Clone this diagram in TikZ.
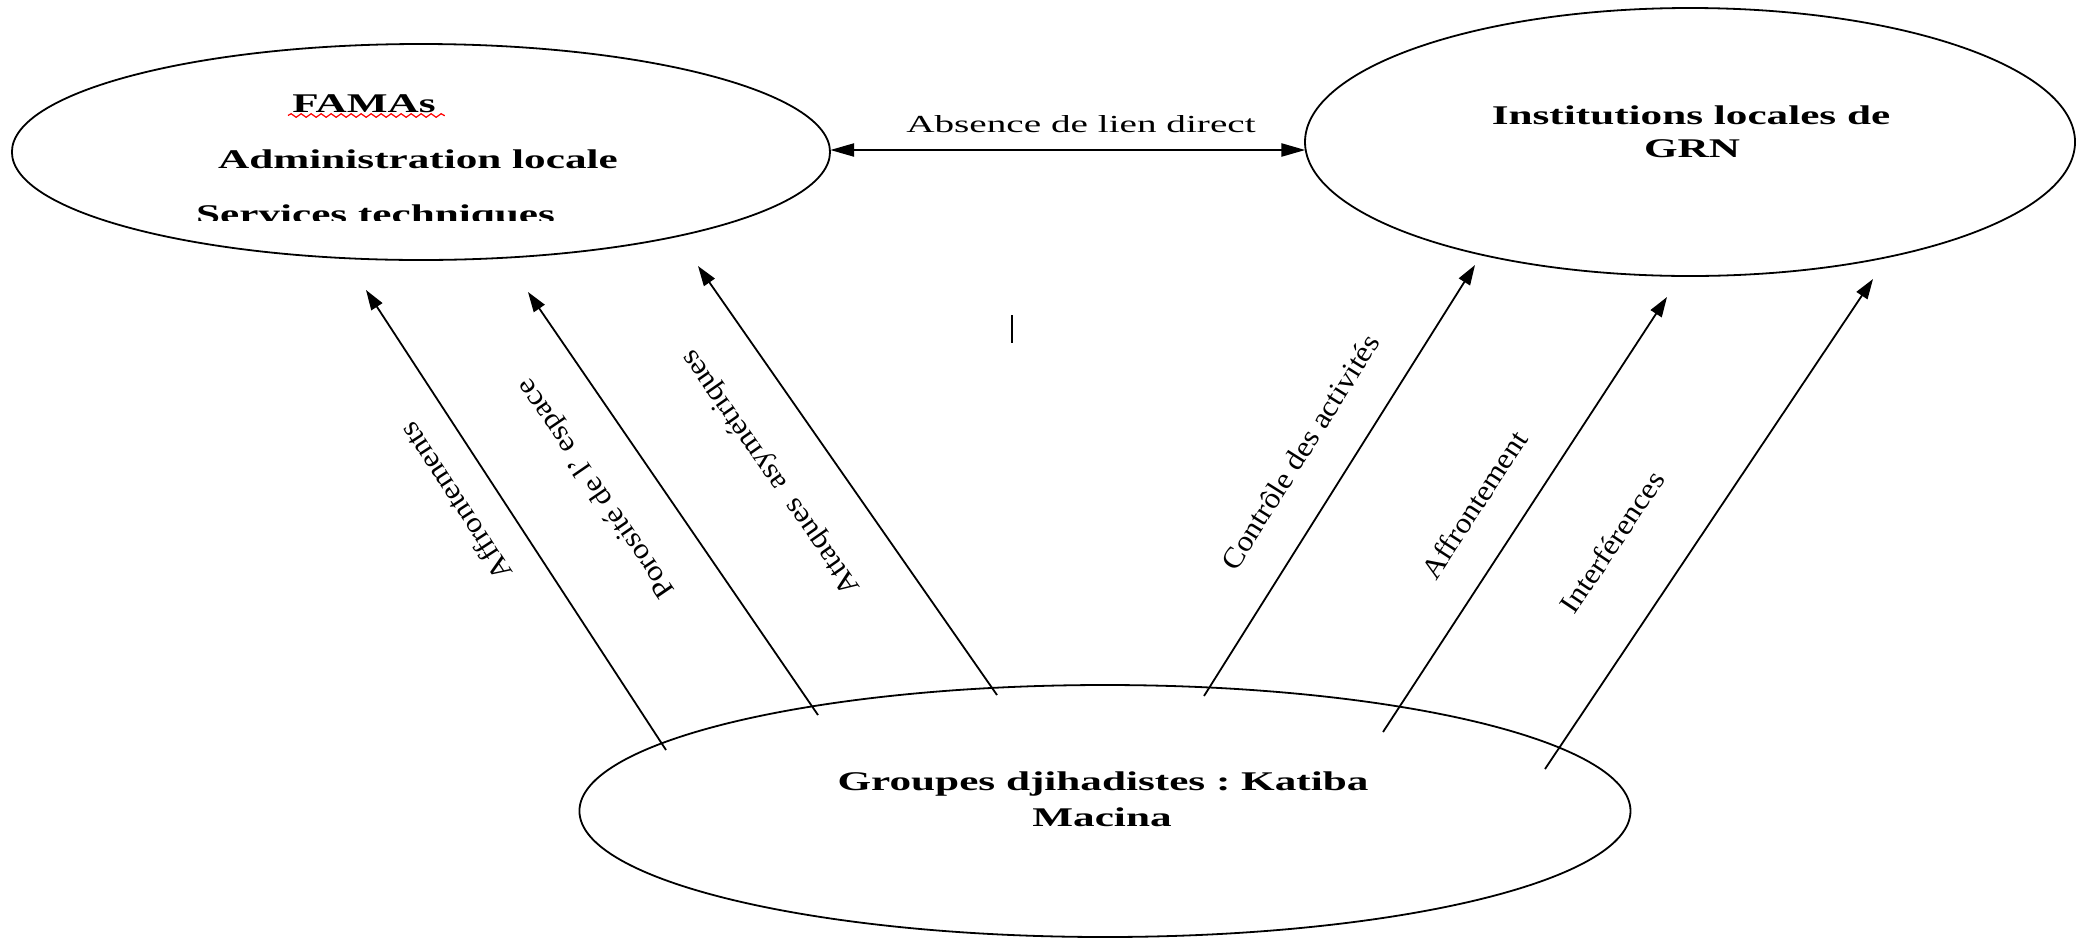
\documentclass[tikz,border=0pt]{standalone}
\usepackage{fontspec}
\setmainfont{Liberation Serif}
\frenchspacing
\usetikzlibrary{arrows.meta,shapes.geometric,decorations.pathmorphing}
\tikzset{
  ell/.style={draw, ellipse, line width=1.8pt, inner sep=0pt, outer sep=0pt},
  btxt/.style={font=\fontsize{27}{32}\selectfont\bfseries, inner sep=0pt, anchor=base},
  rlab/.style={font=\fontsize{29}{32}\selectfont, inner sep=0pt},
  conn/.style={line width=1.8pt, -{Triangle[length=20pt,width=13pt]}},
  dbl/.style={line width=2.4pt, {Triangle[length=24pt,width=13pt]}-{Triangle[length=24pt,width=13pt]}},
  spell/.style={red, line width=1.2pt, decorate, decoration={snake, segment length=10pt, amplitude=1.8pt}}
}
\newcommand{\wlab}[1]{\scalebox{1.08}[1]{#1}}
\begin{document}
\begin{tikzpicture}[x=1pt, y=-1pt]
\useasboundingbox (0,0) rectangle (2079,938);
\begin{scope}[xscale=1.6, transform shape]
  % ellipses
  \node[ell, minimum width=511.3pt, minimum height=216pt] (fama) at (263.1,152) {};
  \node[ell, minimum width=481.25pt, minimum height=268pt] (grn) at (1056.25,142) {};
  \node[ell, minimum width=656.9pt, minimum height=252pt] (jihad) at (690.6,811) {};

  % texts of left ellipse
  \node[btxt] (t1) at (227.5,112) {FAMAs};
  \draw[spell] (180,115.5) -- (278,115.5);
  \node[btxt] (t2) at (261.25,168) {Administration locale};
  \begin{scope}
    \clip (0,0) rectangle (600,220);
    \node[btxt] (t3) at (234.7,223) {Services techniques};
  \end{scope}

  % texts of right ellipse
  \node[btxt] (g1) at (1056.9,124) {Institutions locales de};
  \node[btxt] (g2) at (1057.5,157) {GRN};

  % texts of bottom ellipse
  \node[btxt] (j1) at (689.4,790) {Groupes djihadistes : Katiba};
  \node[btxt] (j2) at (688.75,826) {Macina};

  % double arrow
  \draw[dbl] ([yshift=2pt]fama.east) -- ([yshift=2pt]fama.east -| grn.west);
  \node[font=\fontsize{24.5}{28}\selectfont, inner sep=0pt, anchor=base] (abs) at (675.6,132) {Absence de lien direct};
\end{scope}

% small cursor mark
\coordinate (m1) at (1012,315);
\coordinate (m2) at (1012,343);
\draw[line width=2.2pt] (m1) -- (m2);

% arrow end points
\coordinate (a1s) at (666,750);  \coordinate (a1e) at (366,290);
\coordinate (a2s) at (818,715);  \coordinate (a2e) at (528,292);
\coordinate (a3s) at (997,695);  \coordinate (a3e) at (698,266);
\coordinate (a4s) at (1204,696); \coordinate (a4e) at (1475,265);
\coordinate (a5s) at (1383,732); \coordinate (a5e) at (1667,297);
\coordinate (a6s) at (1545,769); \coordinate (a6e) at (1873,279);

\draw[conn] (a1s) -- (a1e);
\draw[conn] (a2s) -- (a2e);
\draw[conn] (a3s) -- (a3e);
\draw[conn] (a4s) -- (a4e);
\draw[conn] (a5s) -- (a5e);
\draw[conn] (a6s) -- (a6e);

% arrow labels
\node[rlab, rotate=123.1] (l1) at (455,502) {\wlab{Affrontements}};
\node[rlab, rotate=124.4] (l2) at (597,488) {\wlab{Porosité de l' espace}};
\node[rlab, rotate=124.9] (l3) at (771,472) {\wlab{Attaques\ \ asymétriques}};
\node[rlab, rotate=57.8] (l4) at (1300,452) {\wlab{Contrôle des activités}};
\node[rlab, rotate=56.9] (l5) at (1474,505) {\wlab{Affrontement}};
\node[rlab, rotate=56.2] (l6) at (1612,542) {\wlab{Interférences}};
\end{tikzpicture}
\end{document}
